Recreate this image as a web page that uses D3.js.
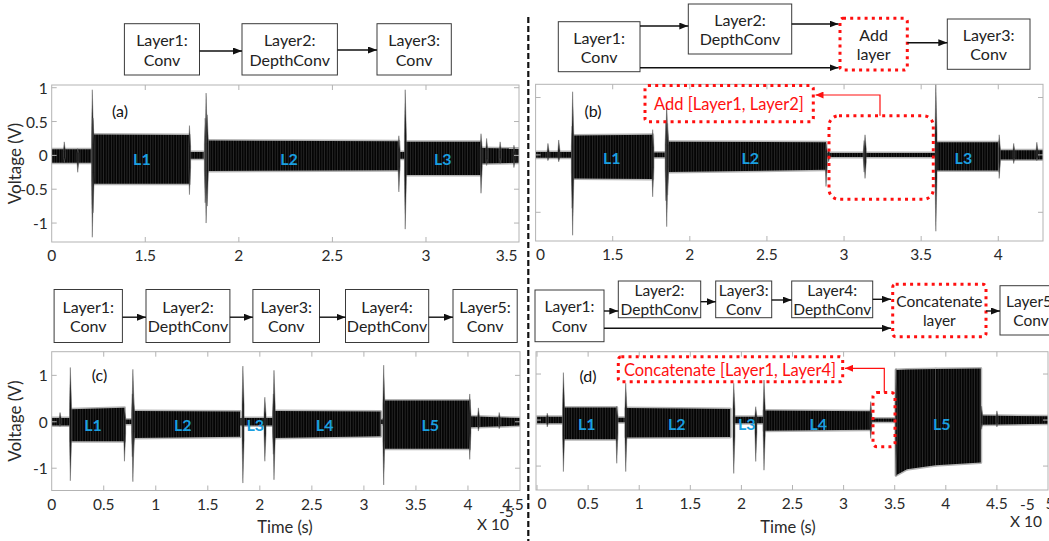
<!DOCTYPE html>
<html>
<head>
<meta charset="utf-8">
<script src="https://cdn.jsdelivr.net/npm/d3@7"></script>
<style>
  html, body { margin: 0; padding: 0; background: #fff; }
  svg { display: block; font-family: Lato, "Open Sans", sans-serif; }
</style>
</head>
<body>
<svg id="fig" width="1049" height="541"></svg>
<script>
// ---------------------------------------------------------------------------
// Measured power traces of four small CNN variants (time in units of 1e-5 s).
// A band is one steady activity window: [tStart, tEnd, upStart, upEnd, lowStart, lowEnd]
// A spike is one switching transient: [t, peakUp, peakLow]
// ---------------------------------------------------------------------------

// (a) Conv -> DepthConv -> Conv
const bandsA = [
  [1.000, 1.214, 0.09, 0.09, -0.11, -0.11],
  [1.224, 1.735, 0.31, 0.30, -0.42, -0.42],
  [1.737, 1.812, 0.05, 0.05, -0.05, -0.05],
  [1.838, 2.855, 0.22, 0.21, -0.23, -0.22],
  [2.857, 2.887, 0.05, 0.05, -0.05, -0.05],
  [2.892, 3.292, 0.20, 0.20, -0.29, -0.29],
  [3.296, 3.497, 0.11, 0.10, -0.12, -0.11]
];
const spikesA = [
  [1.067, 0.20, -0.10], [1.139, 0.10, -0.25], [1.217, 0.97, -1.21], [1.221, 0.55, -0.85],
  [1.736, 0.44, -0.58], [1.820, 0.55, -0.70], [1.825, 0.92, -1.00], [1.831, 0.60, -0.75],
  [2.855, 0.29, -0.54], [2.889, 0.97, -1.09], [3.294, 0.32, -0.56], [3.324, 0.25, -0.15],
  [3.396, 0.20, -0.12], [3.470, 0.15, -0.18]
];
const layerTimesA = [1.482, 2.268, 3.090];

// (b) Conv -> DepthConv -> Add[Layer1, Layer2] -> Conv
const bandsB = [
  [1.000, 1.234, 0.05, 0.05, -0.05, -0.05],
  [1.249, 1.759, 0.34, 0.35, -0.41, -0.42],
  [1.761, 1.838, 0.04, 0.04, -0.04, -0.04],
  [1.862, 2.883, 0.23, 0.22, -0.30, -0.26],
  [2.886, 3.590, 0.035, 0.035, -0.035, -0.035],
  [3.597, 4.000, 0.22, 0.22, -0.27, -0.27],
  [4.008, 4.290, 0.08, 0.08, -0.08, -0.08]
];
const spikesB = [
  [1.080, 0.20, -0.10], [1.150, 0.26, -0.12], [1.237, 0.50, -0.93], [1.240, 1.10, -1.40],
  [1.759, 0.44, -0.73], [1.845, 0.60, -0.80], [1.850, 0.90, -1.25], [1.856, 0.55, -0.70],
  [2.883, 0.20, -0.55], [2.900, 0.10, -0.12], [3.130, 0.25, -0.30], [3.136, 0.35, -0.41],
  [3.595, 1.25, -1.33], [4.006, 0.35, -0.41], [4.100, 0.20, -0.15], [4.250, 0.22, -0.10]
];
const layerTimesB = [1.494, 2.392, 3.774];

// (c) Conv -> DepthConv -> Conv -> DepthConv -> Conv
const bandsC = [
  [0.000, 0.175, 0.08, 0.08, -0.08, -0.08],
  [0.186, 0.699, 0.27, 0.30, -0.42, -0.42],
  [0.701, 0.776, 0.05, 0.05, -0.05, -0.05],
  [0.787, 1.810, 0.23, 0.22, -0.35, -0.32],
  [1.812, 2.130, 0.08, 0.08, -0.08, -0.08],
  [2.137, 3.160, 0.23, 0.22, -0.35, -0.31],
  [3.162, 3.188, 0.05, 0.05, -0.05, -0.05],
  [3.200, 4.015, 0.46, 0.46, -0.58, -0.58],
  [4.020, 4.500, 0.12, 0.08, -0.12, -0.08]
];
const spikesC = [
  [0.080, 0.20, -0.10], [0.179, 1.17, -1.27], [0.699, 0.30, -0.85], [0.775, 0.60, -0.75],
  [0.780, 1.13, -1.29], [0.786, 0.55, -0.70], [1.837, 1.20, -1.32], [2.048, 0.53, -0.85],
  [2.130, 0.60, -0.70], [2.136, 1.11, -1.25], [3.190, 1.22, -1.36], [4.017, 0.60, -0.81],
  [4.100, 0.30, -0.20], [4.300, 0.20, -0.15]
];
const layerTimesC = [0.397, 1.259, 1.957, 2.623, 3.638];

// (d) Conv -> DepthConv -> Conv -> DepthConv -> Concatenate[Layer1, Layer4] -> Conv
const bandsD = [
  [0.000, 0.250, 0.07, 0.07, -0.07, -0.07],
  [0.264, 0.780, 0.27, 0.27, -0.42, -0.42],
  [0.782, 0.860, 0.05, 0.05, -0.05, -0.05],
  [0.872, 1.890, 0.26, 0.24, -0.38, -0.37],
  [1.930, 2.215, 0.07, 0.07, -0.07, -0.07],
  [2.222, 3.260, 0.21, 0.19, -0.23, -0.21],
  [3.270, 3.505, 0.035, 0.035, -0.035, -0.035],
  [3.513, 3.620, 1.09, 1.10, -1.20, -1.07],
  [3.620, 3.900, 1.10, 1.11, -1.07, -0.98],
  [3.900, 4.342, 1.11, 1.12, -0.98, -0.92],
  [4.345, 5.000, 0.10, 0.08, -0.10, -0.08]
];
const spikesD = [
  [0.100, 0.15, -0.15], [0.258, 1.03, -1.12], [0.780, 0.30, -0.94], [0.868, 0.80, -1.12],
  [1.925, 0.80, -1.16], [2.140, 0.29, -0.90], [2.221, 0.87, -1.09], [3.265, 0.40, -0.40],
  [3.513, 1.12, -1.22], [4.350, 0.30, -0.20], [4.500, 0.20, -0.15]
];
const layerTimesD = [0.486, 1.367, 2.052, 2.752, 3.960];

// axis ticks and their printed labels
const xTicksA = [1, 1.5, 2, 2.5, 3, 3.5];
const xLabelsA = ["0", "1.5", "2", "2.5", "3", "3.5"];
const xTicksB = [1, 1.5, 2, 2.5, 3, 3.5, 4];
const xLabelsB = ["0", "1.5", "2", "2.5", "3", "3.5", "4"];
const xTicksC = [0, 0.5, 1, 1.5, 2, 2.5, 3, 3.5, 4, 4.5];
const xLabelsC = ["0", "0.5", "1", "1.5", "2", "2.5", "3", "3.5", "4", "4.5"];
const xTicksD = [0, 0.5, 1, 1.5, 2, 2.5, 3, 3.5, 4, 4.5, 5];
const xLabelsD = ["0", "0.5", "1", "1.5", "2", "2.5", "3", "3.5", "4", "4.5", "5"];
const yTicksA = [-1, -0.5, 0, 0.5, 1];
const yLabelsA = ["-1", "-0.5", "0", "0.5", "1"];
const yTicksC = [-1, 0, 1];
const yLabelsC = ["-1", "0", "1"];
const layerNames3 = ["L1", "L2", "L3"];
const layerNames5 = ["L1", "L2", "L3", "L4", "L5"];

// block diagrams: text of each block
const blocksA = [["Layer1:", "Conv"], ["Layer2:", "DepthConv"], ["Layer3:", "Conv"]];
const blocksB = [["Layer1:", "Conv"], ["Layer2:", "DepthConv"], ["Add", "layer"], ["Layer3:", "Conv"]];
const blocksC = [["Layer1:", "Conv"], ["Layer2:", "DepthConv"], ["Layer3:", "Conv"], ["Layer4:", "DepthConv"], ["Layer5:", "Conv"]];
const blocksD = [["Layer1:", "Conv"], ["Layer2:", "DepthConv"], ["Layer3:", "Conv"], ["Layer4:", "DepthConv"], ["Concatenate", "layer"], ["Layer5:", "Conv"]];

// ---------------------------------------------------------------------------
const svg = d3.select("#fig");
const RED = "#ff1010";
const BLUE = "#1a9fe0";
const FRAME = "#b3b3b3";
const TXT = "#2a2a2a";

const defs = svg.append("defs");
function marker(id, color, w, h) {
  defs.append("marker").attr("id", id)
    .attr("viewBox", `0 0 ${w} ${h}`).attr("refX", w).attr("refY", h / 2)
    .attr("markerWidth", w).attr("markerHeight", h)
    .attr("markerUnits", "userSpaceOnUse").attr("orient", "auto")
    .append("path").attr("d", `M0,0L${w},${h / 2}L0,${h}Z`).attr("fill", color);
}
marker("arrK", "#111", 9, 7);
marker("arrR", RED, 8, 7);

// fine vertical striation of a densely sampled oscillation
const osc = defs.append("pattern").attr("id", "osc").attr("patternUnits", "userSpaceOnUse")
  .attr("width", 2.6).attr("height", 10);
osc.append("rect").attr("width", 2.6).attr("height", 10).attr("fill", "#050505");
osc.append("rect").attr("x", 1.8).attr("width", 0.8).attr("height", 10).attr("fill", "#2c2c2c");

const panels = [
  { id: "a", tag: "(a)", box: [51.7, 85, 519, 242], xd: [1, 3.497], yd: [-1.28, 1.04],
    xt: xTicksA, xl: xLabelsA, yt: yTicksA, yl: yLabelsA, bands: bandsA, spikes: spikesA,
    lt: layerTimesA, ln: layerNames3, tagPos: [120, 110], shift: { 5: -13 }, ylabel: true },
  { id: "b", tag: "(b)", box: [535.6, 84.3, 1043, 241], xd: [1, 4.29], yd: [-1.5, 1.23],
    xt: xTicksB, xl: xLabelsB, yt: yTicksC, yl: null, bands: bandsB, spikes: spikesB,
    lt: layerTimesB, ln: layerNames3, tagPos: [593, 110], shift: { 0: 5 }, ylabel: false },
  { id: "c", tag: "(c)", box: [51.7, 351.7, 520, 490.5], xd: [0, 4.5], yd: [-1.48, 1.51],
    xt: xTicksC, xl: xLabelsC, yt: yTicksC, yl: yLabelsC, bands: bandsC, spikes: spikesC,
    lt: layerTimesC, ln: layerNames5, tagPos: [99.5, 374], shift: { 9: -7 }, ylabel: true,
    time: { label: [285, 527], exp: [477, 530], sup: [499, 517] } },
  { id: "d", tag: "(d)", box: [536, 351.7, 1048, 490], xd: [-0.01, 5], yd: [-1.52, 1.485],
    xt: xTicksD, xl: xLabelsD, yt: yTicksC, yl: null, bands: bandsD, spikes: spikesD,
    lt: layerTimesD, ln: layerNames5, tagPos: [588, 375], shift: { 0: 5, 10: 2 }, ylabel: false,
    time: { label: [788, 527], exp: [1010, 527], sup: [1020, 510] } }
];

panels.forEach(p => {
  const [x0, y0, x1, y1] = p.box;
  const x = d3.scaleLinear().domain(p.xd).range([x0, x1]);
  const y = d3.scaleLinear().domain(p.yd).range([y1, y0]);
  const g = svg.append("g").attr("class", "panel-" + p.id);

  defs.append("clipPath").attr("id", "clip-" + p.id)
    .append("rect").attr("x", x0).attr("y", y0).attr("width", x1 - x0).attr("height", y1 - y0);

  const plot = g.append("g").attr("clip-path", `url(#clip-${p.id})`);
  const area = d3.area().x(d => x(d.t)).y0(d => y(d.lo)).y1(d => y(d.hi));
  const bandPts = p.bands.map(b => [{ t: b[0], hi: b[2], lo: b[4] }, { t: b[1], hi: b[3], lo: b[5] }]);

  // soft grey rim of the oscillation envelope
  plot.selectAll("path.rim").data(bandPts).join("path").attr("class", "rim")
    .attr("d", area).attr("fill", "#a8a8a8")
    .attr("stroke", "#b4b4b4").attr("stroke-width", 3).attr("stroke-linejoin", "round");
  // dense oscillation core
  plot.selectAll("path.core").data(bandPts).join("path").attr("class", "core")
    .attr("d", area).attr("fill", "url(#osc)");

  // switching transients
  plot.selectAll("path.spike").data(p.spikes).join("path").attr("class", "spike")
    .attr("d", s => {
      const cx = x(s[0]);
      const yt = y(s[1]), yb = y(s[2]), ytm = y(s[1] * 0.3), ybm = y(s[2] * 0.3);
      return `M${cx - 0.8},${ytm}L${cx},${yt}L${cx + 1.2},${ytm}L${cx + 1.2},${ybm}L${cx},${yb}L${cx - 0.8},${ybm}Z`;
    })
    .attr("fill", "#111").attr("stroke", "#666").attr("stroke-width", 0.5);

  // frame
  g.append("rect").attr("x", x0).attr("y", y0).attr("width", x1 - x0).attr("height", y1 - y0)
    .attr("fill", "none").attr("stroke", FRAME).attr("stroke-width", 1);

  // inward ticks on all four sides
  const tl = 5;
  p.xt.forEach(t => {
    const tx = x(t);
    if (tx <= x0 + 0.5 || tx >= x1 - 0.5) return;
    g.append("line").attr("x1", tx).attr("x2", tx).attr("y1", y1).attr("y2", y1 - tl).attr("stroke", FRAME);
    g.append("line").attr("x1", tx).attr("x2", tx).attr("y1", y0).attr("y2", y0 + tl).attr("stroke", FRAME);
  });
  p.yt.forEach(t => {
    const ty = y(t);
    g.append("line").attr("x1", x0).attr("x2", x0 + tl).attr("y1", ty).attr("y2", ty).attr("stroke", FRAME);
    g.append("line").attr("x1", x1).attr("x2", x1 - tl).attr("y1", ty).attr("y2", ty).attr("stroke", FRAME);
  });

  // tick labels
  p.xt.forEach((t, i) => {
    g.append("text").attr("x", x(t) + (p.shift[i] || 0)).attr("y", y1 + 13)
      .attr("text-anchor", "middle").attr("dominant-baseline", "central")
      .attr("font-size", 15.5).attr("fill", TXT).text(p.xl[i]);
  });
  if (p.yl) {
    p.yt.forEach((t, i) => {
      g.append("text").attr("x", x0 - 4).attr("y", y(t))
        .attr("text-anchor", "end").attr("dominant-baseline", "central")
        .attr("font-size", 15.5).attr("fill", TXT).text(p.yl[i]);
    });
  }
  if (p.ylabel) {
    g.append("text").attr("transform", `translate(14,${(y0 + y1) / 2}) rotate(-90)`)
      .attr("text-anchor", "middle").attr("dominant-baseline", "central")
      .attr("font-size", 17).attr("fill", TXT).text("Voltage (V)");
  }
  if (p.time) {
    g.append("text").attr("x", p.time.label[0]).attr("y", p.time.label[1])
      .attr("text-anchor", "middle").attr("dominant-baseline", "central")
      .attr("font-size", 16.5).attr("fill", TXT).text("Time (s)");
    g.append("text").attr("x", p.time.exp[0]).attr("y", p.time.exp[1])
      .attr("font-size", 15.5).attr("fill", TXT).text("X 10");
    g.append("text").attr("x", p.time.sup[0]).attr("y", p.time.sup[1])
      .attr("font-size", 15.5).attr("fill", TXT).text("-5");
  }

  // panel tag and layer names
  g.append("text").attr("x", p.tagPos[0]).attr("y", p.tagPos[1])
    .attr("text-anchor", "middle").attr("dominant-baseline", "central")
    .attr("font-size", 16).attr("fill", "#111").text(p.tag);
  p.lt.forEach((t, i) => {
    g.append("text").attr("x", x(t)).attr("y", y(0) + 3)
      .attr("text-anchor", "middle").attr("dominant-baseline", "central")
      .attr("font-size", 16).attr("font-weight", "bold").attr("fill", BLUE).text(p.ln[i]);
  });
});

// ---------------------------------------------------------------------------
// block diagrams above each trace
function drawBlocks(lines, rects, fontSize, red) {
  const gg = svg.append("g");
  rects.forEach((r, i) => {
    const [bx, by, bw, bh] = r;
    const isRed = red && red.includes(i);
    gg.append("rect").attr("x", bx).attr("y", by).attr("width", bw).attr("height", bh)
      .attr("rx", isRed ? 3 : 0)
      .attr("fill", "#fff")
      .attr("stroke", isRed ? RED : "#3a3a3a")
      .attr("stroke-width", isRed ? 3 : 1)
      .attr("stroke-dasharray", isRed ? "3,4.2" : null);
    const cx = bx + bw / 2, cy = by + bh / 2;
    lines[i].forEach((s, k) => {
      gg.append("text").attr("x", r[4] != null ? r[4] : cx).attr("y", cy + (k === 0 ? -9.7 : 9.7))
        .attr("text-anchor", "middle").attr("dominant-baseline", "central")
        .attr("font-size", fontSize).attr("fill", "#222").text(s);
    });
  });
  return gg;
}
function arrow(pts, color, id) {
  svg.append("path").attr("d", d3.line()(pts)).attr("fill", "none")
    .attr("stroke", color).attr("stroke-width", color === RED ? 1.2 : 1.4)
    .attr("marker-end", `url(#${id})`);
}

// (a)
drawBlocks(blocksA, [[124.4, 23.7, 75.1, 51.3], [242, 23.7, 95.4, 51.3], [377, 23.7, 74.3, 51.3]], 16);
arrow([[199.5, 51], [242, 51]], "#111", "arrK");
arrow([[337.4, 50], [377, 50]], "#111", "arrK");

// (b)
drawBlocks(blocksB, [[558.3, 21.7, 81.7, 50], [688.3, 4, 103.4, 50], [840, 18.3, 67.3, 51.7], [947.3, 19, 82.7, 50.3]], 16, [2]);
arrow([[640, 26], [688.3, 26]], "#111", "arrK");
arrow([[791.7, 24], [838.5, 24]], "#111", "arrK");
arrow([[640, 67.7], [838.5, 67.7]], "#111", "arrK");
arrow([[907.3, 42.7], [947.3, 42.7]], "#111", "arrK");

// (c)
drawBlocks(blocksC, [[54.1, 289.5, 68.3, 53], [146, 289.5, 83.9, 53], [252.9, 289.5, 66.6, 53], [345.5, 289.5, 83.2, 53], [453, 289.5, 64.2, 53]], 16);
[[122.4, 146], [229.9, 252.9], [319.5, 345.5], [428.7, 453]].forEach(a => arrow([[a[0], 317.2], [a[1], 317.2]], "#111", "arrK"));

// (d)
drawBlocks(blocksD, [[535, 290, 69, 51.7], [618.3, 281, 82.4, 36.7], [715.7, 281, 56, 36.7], [791.7, 281, 81, 36.7], [892.7, 284.3, 93.3, 52.4], [1000, 285.7, 80, 49.3, 1031]], 15.5, [4]);
arrow([[604, 311], [618.3, 311]], "#111", "arrK");
arrow([[700.7, 301.7], [715.7, 301.7]], "#111", "arrK");
arrow([[771.7, 300], [791.7, 300]], "#111", "arrK");
arrow([[872.7, 299.3], [891, 299.3]], "#111", "arrK");
arrow([[604, 328.3], [891, 328.3]], "#111", "arrK");
arrow([[986, 311], [1000, 311]], "#111", "arrK");

// ---------------------------------------------------------------------------
// residual-connection call-outs
function dotted(x0, y0, x1, y1, rx) {
  svg.append("rect").attr("x", x0).attr("y", y0).attr("width", x1 - x0).attr("height", y1 - y0)
    .attr("rx", rx).attr("fill", "none").attr("stroke", RED).attr("stroke-width", 3)
    .attr("stroke-dasharray", "3,4.2");
}
// (b): Add block output region
dotted(645, 85.5, 813.3, 121.7, 3);
svg.append("text").attr("x", 729).attr("y", 104).attr("text-anchor", "middle")
  .attr("dominant-baseline", "central").attr("font-size", 16.5).attr("fill", RED)
  .text("Add [Layer1, Layer2]");
dotted(829, 115.7, 933.3, 199.3, 10);
arrow([[880, 115.7], [880, 95], [815.5, 95]], RED, "arrR");

// (d): Concatenate block output region
dotted(618.3, 356.7, 842.7, 381.7, 3);
svg.append("text").attr("x", 730).attr("y", 369.5).attr("text-anchor", "middle")
  .attr("dominant-baseline", "central").attr("font-size", 16.5).attr("fill", RED)
  .text("Concatenate [Layer1, Layer4]");
dotted(873, 392.5, 895, 446.7, 4);
arrow([[884.3, 392.5], [884.3, 368.3], [845, 368.3]], RED, "arrR");

// column divider
svg.append("line").attr("x1", 528.3).attr("x2", 528.3).attr("y1", 17).attr("y2", 541)
  .attr("stroke", "#111").attr("stroke-width", 2.2).attr("stroke-dasharray", "6,3");
</script>
</body>
</html>
